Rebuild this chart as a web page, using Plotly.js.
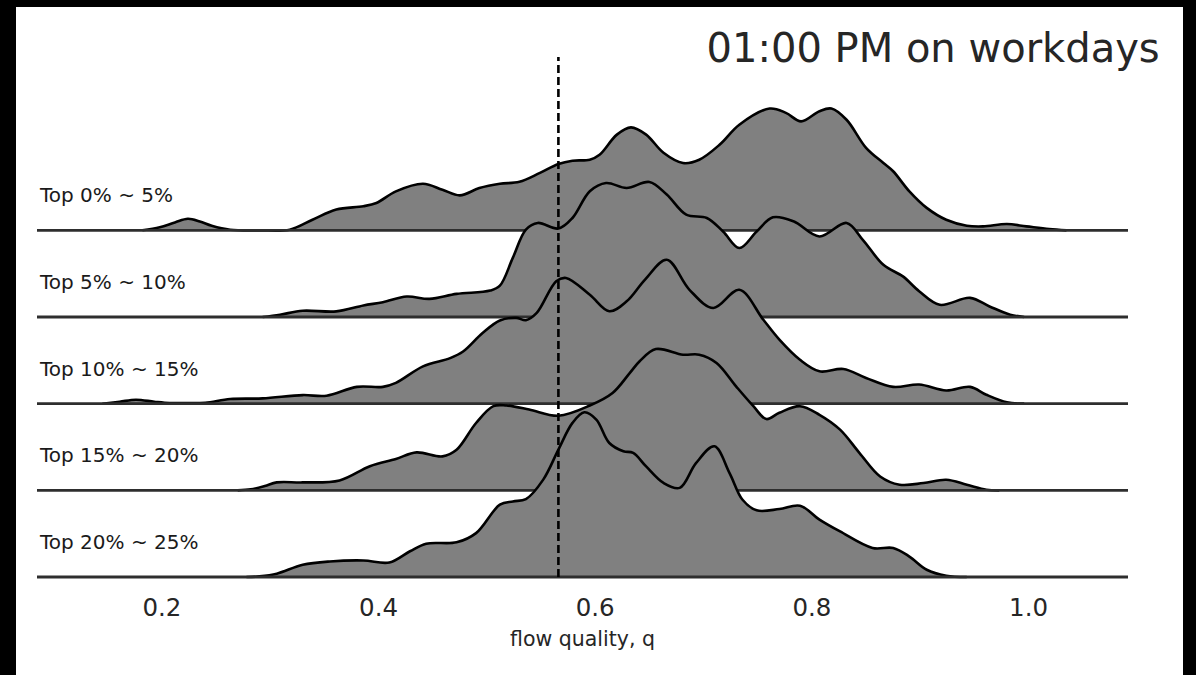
<!DOCTYPE html>
<html>
<head>
<meta charset="utf-8">
<script src="https://cdn.plot.ly/plotly-3.0.1.min.js"></script>
<style>
  html, body { margin: 0; padding: 0; background: #000; width: 1196px; height: 675px; overflow: hidden; }
  #chart { position: absolute; left: 16px; top: 7px; width: 1167px; height: 668px; background: #fff; }
</style>
</head>
<body>
<div id="chart"></div>
<script>
// ---- data ----
const chartTitle = '01:00 PM on workdays';
const xAxisTitle = 'flow quality, q';
const rowLabels = ['Top 0% ~ 5%', 'Top 5% ~ 10%', 'Top 10% ~ 15%', 'Top 15% ~ 20%', 'Top 20% ~ 25%'];
const xTickVals = [0.2, 0.4, 0.6, 0.8, 1.0];
const xTickText = ['0.2', '0.4', '0.6', '0.8', '1.0'];
const qRange = [0.0847, 1.0918];
const medianQ = 0.566;

// Top 0% ~ 5%
const q1 = [0.182,0.198,0.212,0.224,0.235,0.246,0.263,0.290,0.318,0.339,
            0.361,0.386,0.398,0.416,0.441,0.459,0.475,0.493,0.512,0.530,
            0.549,0.566,0.579,0.595,0.604,0.620,0.633,0.647,0.663,0.681,
            0.696,0.715,0.733,0.761,0.776,0.790,0.807,0.818,0.832,0.850,
            0.866,0.875,0.890,0.906,0.924,0.943,0.958,0.980,0.998,1.019,1.035];
const d1 = [0,0.09,0.24,0.35,0.27,0.14,0.02,0,0.02,0.32,
            0.63,0.73,0.83,1.18,1.41,1.23,1.06,1.28,1.41,1.47,
            1.74,2.01,2.11,2.14,2.29,2.90,3.12,2.90,2.35,2.04,
            2.14,2.60,3.20,3.69,3.56,3.30,3.61,3.69,3.35,2.50,
            2.04,1.79,1.18,0.68,0.32,0.14,0.12,0.19,0.12,0.04,0];
// Top 5% ~ 10%
const q2 = [0.293,0.309,0.330,0.361,0.386,0.404,0.426,0.447,0.472,0.503,
            0.512,0.524,0.536,0.547,0.566,0.579,0.595,0.610,0.629,0.650,
            0.666,0.684,0.703,0.718,0.733,0.749,0.764,0.783,0.807,0.832,
            0.847,0.866,0.884,0.899,0.918,0.946,0.964,0.983,0.996];
const d2 = [0,0.07,0.19,0.17,0.35,0.45,0.62,0.55,0.70,0.80,
            0.95,1.80,2.65,2.85,2.68,3.00,3.81,4.06,3.91,4.09,
            3.71,3.10,3.00,2.59,2.09,2.59,3.02,2.90,2.44,2.85,
            2.34,1.58,1.23,0.78,0.37,0.58,0.32,0.07,0];
// Top 10% ~ 15%
const q3 = [0.145,0.161,0.176,0.193,0.207,0.221,0.240,0.263,0.293,0.330,
            0.352,0.380,0.404,0.416,0.441,0.466,0.478,0.496,0.512,0.527,
            0.536,0.546,0.564,0.573,0.595,0.613,0.629,0.646,0.666,0.687,
            0.709,0.733,0.755,0.770,0.789,0.807,0.829,0.850,0.875,0.899,
            0.924,0.946,0.961,0.980,0.996];
const d3 = [0,0.06,0.12,0.06,0.02,0.02,0.03,0.14,0.16,0.26,
            0.24,0.51,0.51,0.63,1.13,1.38,1.58,2.14,2.52,2.60,
            2.53,2.75,3.71,3.81,3.30,2.80,3.10,3.76,4.36,3.45,
            2.90,3.45,2.55,1.94,1.33,0.98,1.05,0.78,0.51,0.58,
            0.40,0.51,0.27,0.04,0];
// Top 15% ~ 20%
const q4 = [0.270,0.282,0.295,0.306,0.330,0.364,0.392,0.416,0.435,0.459,0.472,
            0.490,0.506,0.518,0.539,0.566,0.595,0.616,0.632,0.641,0.656,
            0.681,0.696,0.712,0.730,0.746,0.758,0.770,0.789,0.807,0.826,
            0.844,0.863,0.881,0.903,0.924,0.943,0.961,0.973];
const d4 = [0,0.03,0.13,0.24,0.24,0.30,0.73,0.95,1.15,1.03,1.23,
            2.04,2.55,2.57,2.45,2.26,2.57,2.95,3.56,3.91,4.28,
            4.11,4.11,3.86,3.15,2.55,2.16,2.35,2.55,2.29,1.84,
            1.13,0.42,0.17,0.22,0.32,0.17,0.02,0];
// Top 20% ~ 25%
const q5 = [0.278,0.290,0.306,0.330,0.355,0.386,0.410,0.429,0.444,0.472,
            0.490,0.512,0.524,0.536,0.552,0.566,0.579,0.590,0.601,0.613,
            0.626,0.635,0.647,0.663,0.678,0.693,0.710,0.724,0.736,0.749,
            0.770,0.789,0.807,0.826,0.856,0.875,0.890,0.906,0.924,0.943];
const d5 = [0,0.02,0.10,0.37,0.47,0.50,0.44,0.78,1.01,1.05,
            1.33,2.19,2.29,2.36,2.95,3.86,4.67,4.99,4.77,4.06,
            3.81,3.76,3.35,2.85,2.70,3.45,3.96,3.15,2.34,2.02,
            2.06,2.16,1.74,1.38,0.88,0.88,0.62,0.22,0.04,0];

const qRows = [q1, q2, q3, q4, q5];
const dRows = [d1, d2, d3, d4, d5];

// ---- styling ----
const FONT = 'DejaVu Sans, Verdana, sans-serif';
const ROW_SCALE = 0.3808;   // vertical size of one density unit, in row spacings
const FILL = '#808080';

const traces = [];
const annotations = [];
const nRows = qRows.length;
for (let i = 0; i < nRows; i++) {
  const base = nRows - 1 - i;
  const qs = qRows[i], ds = dRows[i];
  // invisible floor for the fill
  traces.push({
    x: [qRange[0], qRange[1]], y: [base, base],
    mode: 'lines', line: {width: 0, color: 'rgba(0,0,0,0)'},
    hoverinfo: 'skip', showlegend: false
  });
  // ridge
  traces.push({
    x: qs, y: ds.map(d => base + d * ROW_SCALE),
    mode: 'lines', fill: 'tonexty', fillcolor: FILL,
    line: {color: '#000', width: 2.6, shape: 'spline', smoothing: 1},
    hoverinfo: 'skip', showlegend: false
  });
  // baseline
  traces.push({
    x: [qRange[0], qRange[1]], y: [base, base],
    mode: 'lines', line: {color: '#2e2e2e', width: 2.8},
    hoverinfo: 'skip', showlegend: false
  });
  annotations.push({
    text: rowLabels[i], xref: 'paper', x: 0.0, xanchor: 'left',
    yref: 'y', y: base + 0.404, yanchor: 'middle',
    showarrow: false, font: {family: FONT, size: 20, color: '#1a1a1a'}
  });
}

const layout = {
  width: 1167, height: 668,
  margin: {l: 21, r: 55, t: 50.4, b: 84.7, pad: 0},
  paper_bgcolor: '#fff', plot_bgcolor: '#fff',
  showlegend: false,
  title: {
    text: chartTitle, xref: 'container', x: 0.9800, xanchor: 'right',
    yref: 'container', y: 0.9386, yanchor: 'middle',
    font: {family: FONT, size: 40, color: '#262626'}
  },
  xaxis: {
    range: qRange, tickvals: xTickVals, ticktext: xTickText,
    showgrid: false, zeroline: false, showline: false, ticks: '',
    tickfont: {family: FONT, size: 24.5, color: '#262626'},
    title: {text: xAxisTitle, font: {family: FONT, size: 20.5, color: '#262626'}, standoff: 11},
    fixedrange: true
  },
  yaxis: {
    range: [-0.15, 6], visible: false, showgrid: false, zeroline: false, fixedrange: true
  },
  shapes: [{
    type: 'line', xref: 'x', yref: 'y', x0: medianQ, x1: medianQ, y0: 0, y1: 6,
    line: {color: '#000', width: 2.6, dash: '8px,4px'}, layer: 'above'
  }],
  annotations: annotations
};

Plotly.newPlot('chart', traces, layout, {staticPlot: true, displayModeBar: false});
</script>
</body>
</html>
